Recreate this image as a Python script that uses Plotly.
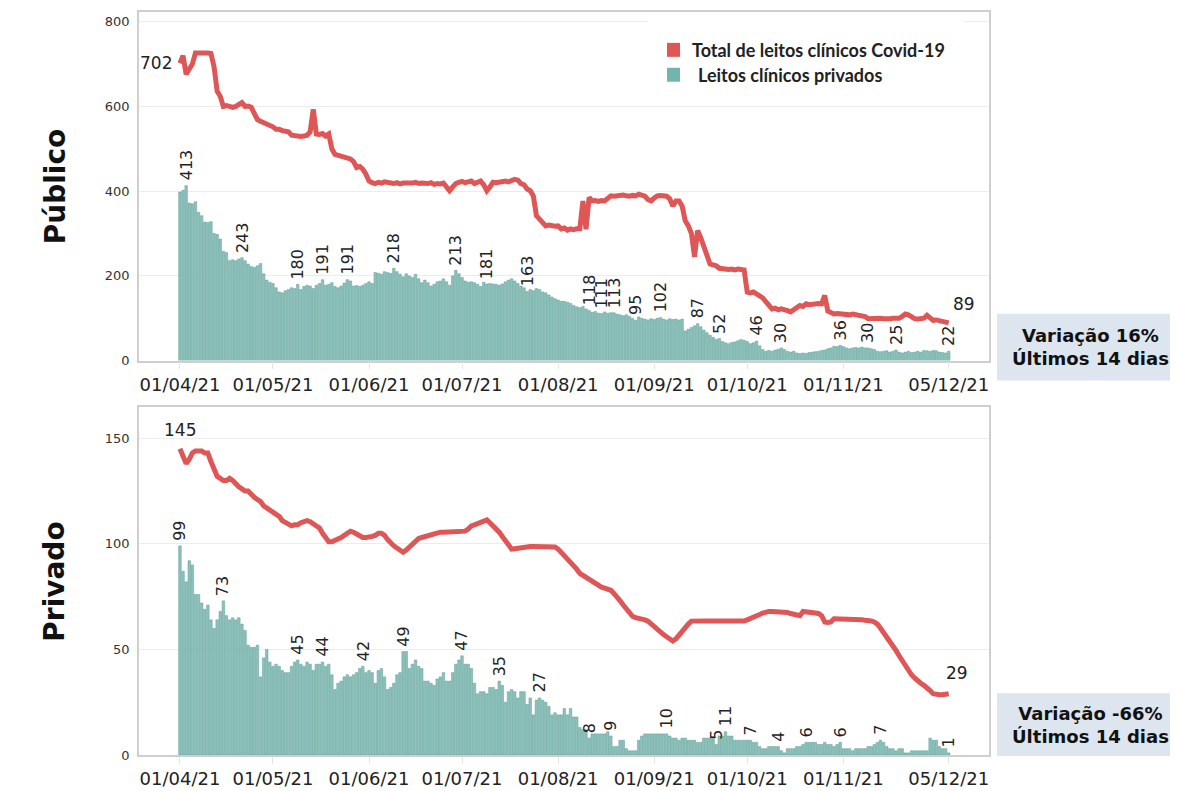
import pandas as pd
import plotly.graph_objects as go

# -----------------------------------------------------
# Data (daily, 01/04/21 -> 05/12/21)
# -----------------------------------------------------

start_date = "2021-04-01"
n_days = 249

pub_total = [
    702, 720, 676, 690, 700, 726, 726,
    728, 728, 726, 725, 694, 636, 624,
    600, 602, 600, 598, 600, 605, 609,
    600, 601, 598, 580, 569, 565, 562,
    558, 555, 552, 546, 546, 543, 541,
    540, 532, 530, 528, 529, 530, 532,
    540, 593, 535, 534, 536, 530, 535,
    500, 487, 485, 480, 481, 478, 476,
    470, 456, 458, 452, 440, 424, 420,
    418, 421, 419, 422, 420, 421, 418,
    420, 417, 419, 418, 420, 419, 421,
    418, 419, 417, 418, 420, 416, 418,
    417, 419, 412, 401, 410, 418, 421,
    423, 420, 421, 424, 418, 420, 424,
    415, 401, 410, 421, 420, 422, 421,
    424, 422, 425, 428, 426, 418, 415,
    405, 401, 389, 342, 334, 328, 318,
    320, 318, 317, 318, 311, 313, 308,
    311, 309, 311, 311, 377, 310, 385,
    377, 378, 376, 378, 377, 383, 389,
    388, 390, 389, 391, 389, 388, 390,
    389, 393, 390, 388, 380, 377, 384,
    389, 390, 389, 388, 382, 365, 377,
    377, 365, 330, 318, 300, 245, 307,
    290, 271, 255, 228, 226, 224, 218,
    216, 216, 215, 216, 214, 216, 215,
    214, 162, 160, 162, 158, 154, 148,
    139, 130, 122, 124, 120, 122, 121,
    118, 115, 120, 125, 130, 128, 134,
    132, 134, 133, 135, 134, 154, 117,
    112, 110, 111, 110, 109, 110, 108,
    110, 109, 107, 106, 104, 99, 100,
    98, 99, 100, 99, 98, 99, 100,
    99, 100, 104, 110, 108, 103, 99,
    98, 99, 100, 107, 100, 95, 96,
    94, 95, 92, 89,
]

pub_bars = [
    398, 402, 413, 372, 370, 375, 350,
    342, 327, 326, 328, 300, 298, 287,
    258, 255, 236, 238, 236, 240, 243,
    236, 228, 222, 220, 224, 229, 205,
    190, 185, 182, 172, 162, 160, 165,
    168, 172, 170, 180, 168, 175, 178,
    176, 170, 178, 182, 191, 178, 180,
    184, 175, 172, 176, 183, 191, 188,
    176, 177, 175, 178, 182, 186, 182,
    208, 206, 204, 210, 208, 206, 218,
    210, 204, 198, 205, 200, 196, 204,
    193, 184, 190, 184, 176, 180, 186,
    188, 193, 186, 178, 200, 213, 205,
    196, 188, 185, 186, 184, 180, 175,
    185, 181, 182, 181, 180, 178, 181,
    186, 190, 193, 188, 182, 176, 172,
    163, 168, 165, 170, 168, 162, 160,
    155, 150, 146, 143, 140, 140, 138,
    135, 130, 127, 125, 128, 122, 118,
    114, 116, 112, 111, 115, 112, 113,
    113, 110, 108, 106, 108, 104, 100,
    95, 103, 100, 98, 96, 99, 97,
    100, 102, 98, 96, 99, 97, 98,
    96, 98, 70, 74, 78, 82, 87,
    80, 72, 66, 60, 55, 50, 52,
    45, 42, 40, 43, 44, 47, 50,
    48, 45, 40, 42, 46, 35, 26,
    22, 24, 22, 25, 27, 30, 26,
    22, 20, 22, 18, 17, 18, 17,
    19, 20, 21, 22, 24, 25, 28,
    30, 34, 33, 36, 33, 30, 28,
    30, 31, 30, 32, 30, 30, 28,
    26, 22, 21, 22, 23, 20, 22,
    25, 20, 18, 20, 22, 19, 20,
    22, 20, 24, 23, 22, 24, 23,
    20, 19, 18, 22,
]

priv_total = [
    145, 141, 138, 140, 143, 144, 144,
    144, 143, 143, 139, 135, 132, 131,
    130, 130, 131, 130, 128, 127, 126,
    125, 125, 123, 122, 121, 120, 118,
    117, 116, 115, 114, 113, 111, 110,
    109, 108.5, 109, 109, 110, 110.5, 111,
    110.5, 109.5, 108.5, 107.5, 105, 103, 101,
    101, 101.5, 102, 103, 104, 105, 106,
    105.5, 104.5, 104, 103, 103, 103, 103.5,
    104, 105, 105, 104, 102, 100, 99,
    98, 97, 96, 97, 98.5, 100, 101.5,
    102.5, 103, 103.5, 104, 104.5, 105, 105,
    105.5, 105.5, 105.5, 105.5, 105.5, 105.5, 105.5,
    105.5, 106, 107, 108.5, 109, 109.5, 110.5,
    111, 111.3, 110, 108.5, 107.5, 105.5, 103.5,
    101.5, 99, 97.5, 97.7, 98, 98.2, 98.5,
    98.7, 98.7, 98.7, 98.7, 98.5, 98.5, 98.5,
    98.7, 98.7, 98.5, 97.5, 96, 94.5, 93,
    91, 89.5, 88, 86, 85, 84, 83,
    82, 81, 80, 79.5, 79, 78.5, 78,
    76.5, 75, 73, 71, 69, 67, 65.7,
    65, 64.8, 64.5, 64, 63.4, 62, 60.5,
    59, 58, 57, 56, 54.8, 54, 55,
    57, 59, 60.5, 62, 63.4, 63.5, 63.5,
    63.6, 63.5, 63.5, 63.4, 63.4, 63.3, 63.3,
    63.3, 63.4, 63.4, 63.4, 63.4, 63.5, 63.5,
    63.5, 64, 64.5, 65, 65.8, 66.5, 67.2,
    67.8, 68, 68, 68, 68, 68, 67.8,
    67.5, 67, 66.5, 66, 66, 68, 67.8,
    67.6, 67.5, 67.3, 67, 66, 63, 62.8,
    63, 64.5, 64.5, 64.5, 64.5, 64.5, 64.5,
    64.5, 64.5, 64.5, 64, 63.8, 63.8, 63.5,
    63, 62, 60, 58, 56, 54.5, 52,
    49.5, 47, 44.5, 42, 40, 38, 36.5,
    35, 34, 33, 32, 30.5, 29, 28.5,
    28.5, 28.5, 28.8, 29,
]

priv_bars = [
    99, 87, 82, 92, 90, 76, 76,
    72, 69, 71, 64, 60, 64, 68,
    73, 66, 64, 65, 64, 65, 62,
    59, 52, 51, 51, 52, 37, 46,
    50, 44, 42, 43, 42, 40, 39,
    39, 42, 44, 45, 43, 42, 44,
    43, 40, 43, 43, 44, 42, 43,
    38, 31, 34, 35, 37, 38, 37,
    38, 39, 41, 42, 39, 40, 39,
    34, 40, 41, 37, 31, 32, 34,
    38, 39, 49, 49, 41, 43, 45,
    42, 41, 35, 35, 34, 33, 36,
    37, 39, 35, 35, 39, 43, 45,
    47, 43, 43, 41, 34, 29, 30,
    30, 29, 32, 32, 31, 35, 33,
    25, 30, 31, 30, 27, 30, 30,
    24, 27, 19, 26, 27, 26, 25,
    23, 19, 20, 19, 19, 22, 19,
    22, 18, 18, 13, 12, 12, 8,
    10, 10, 10, 10, 10, 11, 9,
    4, 4, 7, 7, 3, 2, 2,
    2, 7, 9, 10, 10, 10, 10,
    10, 10, 10, 10, 9, 8, 8,
    7, 8, 8, 7, 7, 7, 6,
    6, 8, 8, 8, 8, 5, 9,
    9, 11, 9, 9, 7, 7, 7,
    7, 7, 7, 6, 6, 4, 3,
    3, 4, 4, 4, 4, 2, 1,
    3, 3, 3, 4, 4, 5, 6,
    6, 6, 6, 5, 5, 6, 5,
    5, 4, 5, 6, 3, 3, 3,
    2, 3, 3, 3, 3, 4, 4,
    5, 6, 7, 6, 4, 3, 3,
    2, 3, 3, 1, 1, 2, 2,
    2, 2, 2, 2, 8, 7, 7,
    4, 3, 3, 1,
]

# days (index from 01/04) whose bar value is written above the bar
pub_label_days = [2, 20, 38, 46, 54, 69, 89, 99, 112, 132, 136, 140, 147,
                  155, 167, 174, 186, 194, 213, 222, 231, 248]
priv_label_days = [0, 14, 38, 46, 59, 72, 91, 103, 116, 132, 139, 157, 173,
                   176, 184, 193, 202, 213, 226, 248]

tick_dates = ["2021-04-01", "2021-05-01", "2021-06-01", "2021-07-01",
              "2021-08-01", "2021-09-01", "2021-10-01", "2021-11-01",
              "2021-12-05"]
tick_text = ["01/04/21", "01/05/21", "01/06/21", "01/07/21", "01/08/21",
             "01/09/21", "01/10/21", "01/11/21", "05/12/21"]

legend_line = "Total de leitos clínicos Covid-19"
legend_bar = "Leitos clínicos privados"
panel_names = ["Público", "Privado"]
variation_text = ["Variação 16%<br>Últimos 14 dias",
                  "Variação -66%<br>Últimos 14 dias"]

for s in (pub_total, pub_bars, priv_total, priv_bars):
    assert len(s) == n_days, len(s)

dates = pd.date_range(start_date, periods=n_days)

# -----------------------------------------------------
# Styling / page geometry (the page body adds an 8px margin)
# -----------------------------------------------------

RED = "#de5656"
TEAL = "#8cc2bb"
TEAL_EDGE = "#5e9e96"
OFF = 8
PAGE_W, PAGE_H = 1178, 791
W, H = PAGE_W - OFF, PAGE_H - OFF
PLOT_L, PLOT_R, PLOT_T, PLOT_B = 139, 989, 10, 756   # page pixels
L, R, T, B = PLOT_L - OFF, PAGE_W - PLOT_R, PLOT_T - OFF, PAGE_H - PLOT_B


def px(x):
    return (x - PLOT_L) / (PLOT_R - PLOT_L)


def py(y):
    return (PLOT_B - y) / (PLOT_B - PLOT_T)


fig = go.Figure()

panels = [
    ("x", "y", pub_bars, pub_total, pub_label_days),
    ("x2", "y2", priv_bars, priv_total, priv_label_days),
]

for xa, ya, bars, total, label_days in panels:
    fig.add_bar(x=dates, y=bars, xaxis=xa, yaxis=ya,
                marker=dict(color=TEAL, line=dict(color=TEAL_EDGE, width=0.5)),
                showlegend=False)
    fig.add_scatter(x=dates, y=total, xaxis=xa, yaxis=ya, mode="lines",
                    line=dict(color=RED, width=5), showlegend=False)
    for d in label_days:
        fig.add_annotation(x=dates[d], y=bars[d], xref=xa, yref=ya,
                           text=str(bars[d]), showarrow=False, textangle=-90,
                           xanchor="center", yanchor="bottom", yshift=3,
                           font=dict(family="DejaVu Sans", size=16, color="#222"))

# line end labels
end_font = dict(family="DejaVu Sans", size=17, color="#222")
fig.add_annotation(x=dates[0], y=pub_total[0], xref="x", yref="y",
                   text=str(pub_total[0]), showarrow=False, xanchor="right",
                   yanchor="middle", xshift=-6, font=end_font)
fig.add_annotation(x=dates[-1], y=pub_total[-1], xref="x", yref="y",
                   text=str(pub_total[-1]), showarrow=False,
                   xanchor="center", yanchor="middle",
                   xshift=15, yshift=19, font=end_font)
fig.add_annotation(x=dates[0], y=priv_total[0], xref="x2", yref="y2",
                   text=str(priv_total[0]), showarrow=False,
                   xanchor="center", yanchor="middle", yshift=19, font=end_font)
fig.add_annotation(x=dates[-1], y=priv_total[-1], xref="x2", yref="y2",
                   text=str(priv_total[-1]), showarrow=False,
                   xanchor="center", yanchor="middle",
                   xshift=8, yshift=21, font=end_font)

axis_common = dict(
    showline=True, mirror=True, linecolor="#cfcfcf", linewidth=1.5,
    showgrid=False, zeroline=False,
)
xcommon = dict(axis_common, type="date",
               range=["2021-03-18 19:00", "2021-12-18"],
               tickvals=tick_dates, ticktext=tick_text,
               ticks="outside", ticklen=7, tickcolor="#e4e4e4",
               tickfont=dict(family="DejaVu Sans", size=18, color="#222"))
ycommon = dict(axis_common, showgrid=True, gridcolor="#ececec", gridwidth=1,
               ticks="outside", ticklen=5, tickcolor="rgba(0,0,0,0)",
               tickfont=dict(family="DejaVu Sans", size=13, color="#333"))

fig.update_layout(
    width=W, height=H,
    margin=dict(l=L, r=R, t=T, b=B),
    paper_bgcolor="white", plot_bgcolor="white",
    bargap=0.18,
    xaxis=dict(xcommon, anchor="y", domain=[0, 1]),
    yaxis=dict(ycommon, anchor="x", domain=[py(360), 1], range=[0, 823],
               tickvals=[0, 200, 400, 600, 800]),
    xaxis2=dict(xcommon, anchor="y2", domain=[0, 1]),
    yaxis2=dict(ycommon, anchor="x2", domain=[0, py(407)], range=[0, 164.6],
                tickvals=[0, 50, 100, 150]),
)

# panel titles
for name, yc in zip(panel_names, [185, 582]):
    fig.add_annotation(x=px(55), y=py(yc), xref="paper", yref="paper",
                       text=f"<b>{name}</b>", showarrow=False, textangle=-90,
                       xanchor="center", yanchor="middle",
                       font=dict(family="DejaVu Sans", size=28, color="#111"))

# legend box (drawn by hand to get square swatches)
fig.add_shape(type="rect", xref="paper", yref="paper",
              x0=px(648), x1=px(963), y0=py(92), y1=py(16),
              fillcolor="white", line_width=0, layer="above")
fig.add_shape(type="rect", xref="paper", yref="paper",
              x0=px(667), x1=px(680), y0=py(55), y1=py(41),
              fillcolor=RED, line_width=0, layer="above")
fig.add_shape(type="rect", xref="paper", yref="paper",
              x0=px(667), x1=px(680), y0=py(80), y1=py(66),
              fillcolor="#72b5ac", line_width=0, layer="above")
fig.add_annotation(x=px(690), y=py(48), xref="paper", yref="paper",
                   text=f"<b>{legend_line}</b>", showarrow=False,
                   xanchor="left", yanchor="middle",
                   font=dict(family="Lato", size=18, color="#222"))
fig.add_annotation(x=px(696), y=py(73), xref="paper", yref="paper",
                   text=f"<b>{legend_bar}</b>", showarrow=False,
                   xanchor="left", yanchor="middle",
                   font=dict(family="Lato", size=18, color="#222"))

# variation boxes
for txt, (y0, y1) in zip(variation_text, [(313, 380), (694, 757)]):
    fig.add_shape(type="rect", xref="paper", yref="paper",
                  x0=px(997), x1=px(1178), y0=py(y1), y1=py(y0),
                  fillcolor="#dde5ef", line_width=0)
    fig.add_annotation(x=px(1090), y=py((y0 + y1) / 2), xref="paper", yref="paper",
                       text=f"<b>{txt}</b>", showarrow=False,
                       xanchor="center", yanchor="middle",
                       font=dict(family="DejaVu Sans", size=18, color="#111"))

fig.write_html("out.html")
